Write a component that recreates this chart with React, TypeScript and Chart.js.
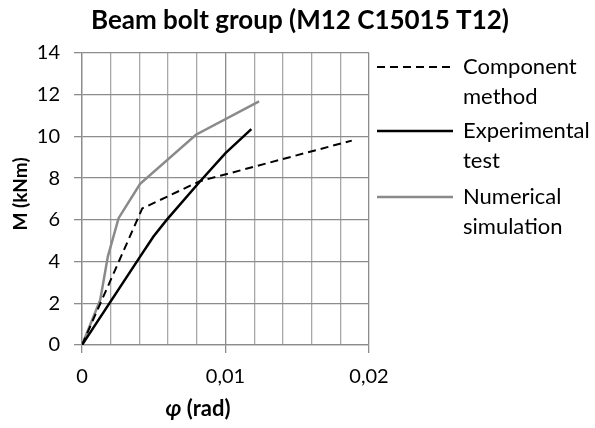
import React, { useEffect, useRef } from "react";
import { Chart, registerables } from "chart.js";

Chart.register(...registerables);

const titleText = "Beam bolt group (M12 C15015 T12)";
const yTitle = "M (kNm)";
const xTitleSymbol = "φ";
const xTitleRest = " (rad)";

const compX = [0, 0.0042, 0.0082, 0.0188];
const compY = [0, 6.55, 7.85, 9.8];

const expX = [0, 0.00405, 0.00498, 0.0059, 0.00822, 0.01, 0.0118];
const expY = [0, 4.24, 5.2, 6.0, 7.84, 9.2, 10.35];

const numX = [0, 0.00127, 0.0018, 0.00255, 0.00405, 0.00794, 0.01234];
const numY = [0, 2.16, 4.24, 6.08, 7.73, 10.08, 11.68];

const legendLabels = [
  ["Component", "method"],
  ["Experimental", "test"],
  ["Numerical", "simulation"],
];

const xMin = 0;
const xMax = 0.02;
const xStep = 0.002;
const yMin = 0;
const yMax = 14;
const yStep = 2;

const FONT = "Lato";
const MAJOR = "#8c8c8c";
const MINOR = "#a8a8a8";

const toPts = (xs: number[], ys: number[]) => xs.map((x, i) => ({ x, y: ys[i] }));
const isMajorX = (v: number) => Math.abs(v / 0.01 - Math.round(v / 0.01)) < 1e-6;

export default function App() {
  const ref = useRef<HTMLCanvasElement | null>(null);

  useEffect(() => {
    document.body.style.margin = "0";
    const canvas = ref.current;
    if (!canvas) return;

    const styles = [
      { color: "#000000", dash: [8, 5], width: 2 },
      { color: "#000000", dash: [] as number[], width: 2.5 },
      { color: "#8a8a8a", dash: [] as number[], width: 2.5 },
    ];

    const decor = {
      id: "decor",
      afterDraw(chart: any) {
        const ctx = chart.ctx as CanvasRenderingContext2D;
        ctx.save();
        ctx.fillStyle = "#000";
        // Title
        ctx.font = `bold 26px ${FONT}`;
        ctx.textAlign = "center";
        ctx.textBaseline = "middle";
        ctx.fillText(titleText, 300, 21);
        // Y title
        ctx.save();
        ctx.translate(21, 194);
        ctx.rotate(-Math.PI / 2);
        ctx.font = `bold 19px ${FONT}`;
        ctx.fillText(yTitle, 0, 0);
        ctx.restore();
        // X title
        const xf = 22;
        ctx.font = `italic bold ${xf}px ${FONT}`;
        const w1 = ctx.measureText(xTitleSymbol).width;
        ctx.font = `bold ${xf}px ${FONT}`;
        const w2 = ctx.measureText(xTitleRest).width;
        const sx = 198 - (w1 + w2) / 2;
        ctx.textAlign = "left";
        ctx.font = `italic bold ${xf}px ${FONT}`;
        ctx.fillText(xTitleSymbol, sx, 409);
        ctx.font = `bold ${xf}px ${FONT}`;
        ctx.fillText(xTitleRest, sx + w1, 409);
        // Legend
        const rowY = [67, 131, 197];
        legendLabels.forEach((lines, i) => {
          const st = styles[i];
          ctx.beginPath();
          ctx.strokeStyle = st.color;
          ctx.lineWidth = st.width;
          ctx.setLineDash(st.dash);
          ctx.moveTo(377, rowY[i]);
          ctx.lineTo(453, rowY[i]);
          ctx.stroke();
          ctx.setLineDash([]);
          ctx.font = `22px ${FONT}`;
          ctx.fillStyle = "#000";
          ctx.textBaseline = "middle";
          lines.forEach((t, j) => ctx.fillText(t, 463, rowY[i] + j * 29.5));
        });
        ctx.restore();
      },
    };

    const chart = new Chart(canvas, {
      type: "scatter",
      data: {
        datasets: [
          { label: legendLabels[0].join(" "), data: toPts(compX, compY), showLine: true, borderColor: styles[0].color, borderDash: styles[0].dash, borderWidth: styles[0].width, pointRadius: 0, tension: 0 },
          { label: legendLabels[1].join(" "), data: toPts(expX, expY), showLine: true, borderColor: styles[1].color, borderWidth: styles[1].width, pointRadius: 0, tension: 0 },
          { label: legendLabels[2].join(" "), data: toPts(numX, numY), showLine: true, borderColor: styles[2].color, borderWidth: styles[2].width, pointRadius: 0, tension: 0 },
        ],
      },
      options: {
        responsive: false,
        animation: false,
        layout: { padding: { top: 53, right: 226, left: 0, bottom: 0 } },
        plugins: { legend: { display: false }, title: { display: false }, tooltip: { enabled: false } },
        scales: {
          x: {
            type: "linear",
            min: xMin,
            max: xMax,
            afterFit: (s: any) => { s.height = 83; },
            afterBuildTicks: (s: any) => {
              const t = [];
              for (let v = xMin; v <= xMax + 1e-9; v += xStep) t.push({ value: Math.round(v * 1e6) / 1e6 });
              s.ticks = t;
            },
            ticks: {
              autoSkip: false,
              maxRotation: 0,
              padding: 12,
              color: "#000",
              font: { family: FONT, size: 20 },
              callback: (v: any) => (isMajorX(Number(v)) ? String(Number(v)).replace(".", ",") : ""),
            },
            grid: {
              color: (c: any) => (c.tick && isMajorX(c.tick.value) ? MAJOR : MINOR),
              tickColor: (c: any) => (c.tick && isMajorX(c.tick.value) ? MAJOR : "rgba(0,0,0,0)"),
              tickLength: 8,
              lineWidth: 1.3,
            },
            border: { display: true, color: MAJOR, width: 1.3 },
          },
          y: {
            type: "linear",
            min: yMin,
            max: yMax,
            afterFit: (s: any) => { s.width = 82; },
            ticks: { stepSize: yStep, padding: 14, color: "#000", font: { family: FONT, size: 20 } },
            grid: { color: MAJOR, tickColor: MAJOR, tickLength: 8, lineWidth: 1.3 },
            border: { display: true, color: MAJOR, width: 1.3 },
          },
        },
      },
      plugins: [decor],
    });
    return () => chart.destroy();
  }, []);

  return (
    <div style={{ width: 595, height: 428, background: "#fff" }}>
      <canvas ref={ref} width={595} height={428} style={{ display: "block" }} />
    </div>
  );
}
